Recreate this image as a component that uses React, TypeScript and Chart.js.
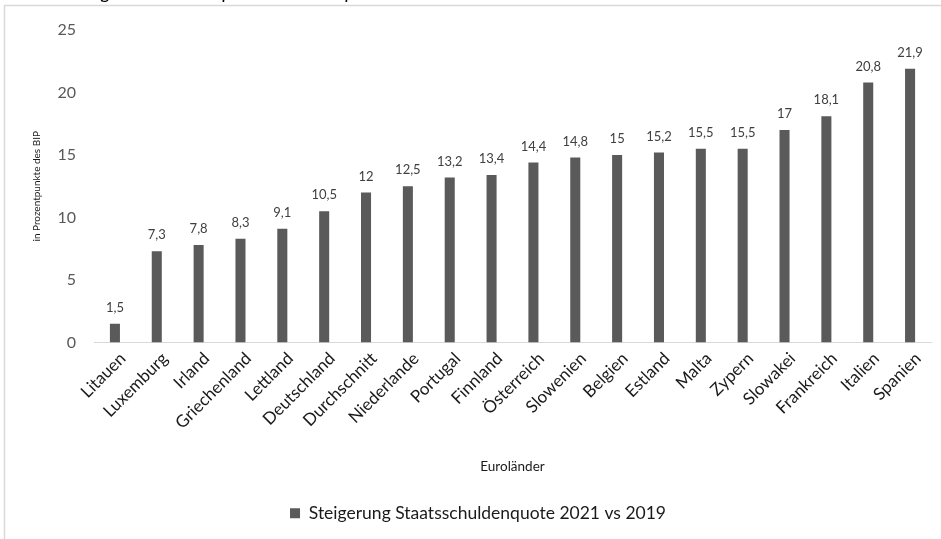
import React, { useEffect, useRef } from 'react';
import { Chart, registerables } from 'chart.js';

Chart.register(...registerables);

// Increase of the public debt ratio (percentage points of GDP), 2021 vs 2019
const countries = [
  'Litauen', 'Luxemburg', 'Irland', 'Griechenland', 'Lettland', 'Deutschland',
  'Durchschnitt', 'Niederlande', 'Portugal', 'Finnland', 'Österreich', 'Slowenien',
  'Belgien', 'Estland', 'Malta', 'Zypern', 'Slowakei', 'Frankreich', 'Italien', 'Spanien',
];
const debtIncrease = [
  1.5, 7.3, 7.8, 8.3, 9.1, 10.5, 12, 12.5, 13.2, 13.4,
  14.4, 14.8, 15, 15.2, 15.5, 15.5, 17, 18.1, 20.8, 21.9,
];
const yTicks = [0, 5, 10, 15, 20, 25];

const seriesName = 'Steigerung Staatsschuldenquote 2021 vs 2019';
const chartTitle = 'Veränderung der Schuldenquote in Prozentpunkten';
const xTitle = 'Euroländer';
const yTitle = 'in Prozentpunkte des BIP';

const FONT = 'Lato, "Open Sans", sans-serif';
const BAR = '#5a5a5a';

const formatDe = (v: number) => String(v).replace('.', ',');

// White background plus the thin grey frame of the chart area
const framePlugin = {
  id: 'frame',
  beforeDraw(chart: any) {
    const { ctx, width, height } = chart;
    ctx.save();
    ctx.fillStyle = '#ffffff';
    ctx.fillRect(0, 0, width, height);
    ctx.strokeStyle = '#d9d9d9';
    ctx.lineWidth = 1.5;
    ctx.strokeRect(4.5, 5.5, width + 20, height + 20);
    ctx.restore();
  },
};

// Chart heading sitting above the frame
const headingPlugin = {
  id: 'heading',
  afterDraw(chart: any) {
    const { ctx } = chart;
    ctx.save();
    ctx.font = `italic 19px ${FONT}`;
    ctx.fillStyle = '#000000';
    ctx.textAlign = 'left';
    ctx.textBaseline = 'alphabetic';
    ctx.fillText(chartTitle, 10, -1);
    ctx.restore();
  },
};

// Value labels above each bar
const valueLabelPlugin = {
  id: 'valueLabels',
  afterDatasetsDraw(chart: any) {
    const { ctx } = chart;
    const meta = chart.getDatasetMeta(0);
    ctx.save();
    ctx.font = `13px ${FONT}`;
    ctx.fillStyle = '#404040';
    ctx.textAlign = 'center';
    ctx.textBaseline = 'alphabetic';
    meta.data.forEach((bar: any, i: number) => {
      ctx.fillText(formatDe(debtIncrease[i]), bar.x, bar.y - 12);
    });
    ctx.restore();
  },
};

export default function App() {
  const canvasRef = useRef<HTMLCanvasElement | null>(null);

  useEffect(() => {
    document.body.style.margin = '0';
    const canvas = canvasRef.current;
    if (!canvas) return;

    const chart = new Chart(canvas, {
      type: 'bar',
      data: {
        labels: countries,
        datasets: [
          {
            label: seriesName,
            data: debtIncrease,
            backgroundColor: BAR,
            borderWidth: 0,
            categoryPercentage: 1,
            barPercentage: 0.24,
          },
        ],
      },
      options: {
        responsive: false,
        animation: false,
        devicePixelRatio: 1,
        layout: { padding: { left: 25, right: 37, top: 30, bottom: 7 } },
        plugins: {
          tooltip: { enabled: false },
          legend: {
            position: 'bottom',
            labels: {
              boxWidth: 10,
              boxHeight: 10,
              padding: 10,
              color: '#1a1a1a',
              font: { family: FONT, size: 17.5 },
            },
          },
        },
        scales: {
          x: {
            grid: { display: false, drawTicks: false },
            border: { display: true, color: '#d9d9d9', width: 1 },
            ticks: {
              autoSkip: false,
              minRotation: 45,
              maxRotation: 45,
              padding: 6,
              labelOffset: 8,
              color: '#1a1a1a',
              font: { family: FONT, size: 17 },
            },
            title: {
              display: true,
              text: xTitle,
              color: '#1a1a1a',
              font: { family: FONT, size: 13.5 },
              padding: { top: 0, bottom: 20 },
            },
            afterFit(scale: any) {
              scale.height = 152;
            },
          },
          y: {
            min: 0,
            max: 25,
            grid: { display: false, drawTicks: false },
            border: { display: false },
            afterBuildTicks(scale: any) {
              scale.ticks = yTicks.map((v) => ({ value: v }));
            },
            ticks: {
              padding: 18,
              color: '#595959',
              font: { family: FONT, size: 16 },
            },
            title: {
              display: true,
              text: yTitle,
              color: '#1a1a1a',
              font: { family: FONT, size: 10 },
              padding: { top: 6, bottom: 0 },
            },
            afterFit(scale: any) {
              scale.width = 69;
            },
          },
        },
      },
      plugins: [framePlugin, headingPlugin, valueLabelPlugin],
    });

    return () => chart.destroy();
  }, []);

  return (
    <div style={{ width: 941, height: 539, overflow: 'hidden', position: 'relative' }}>
      <canvas ref={canvasRef} width={968} height={539} style={{ display: 'block' }} />
    </div>
  );
}
